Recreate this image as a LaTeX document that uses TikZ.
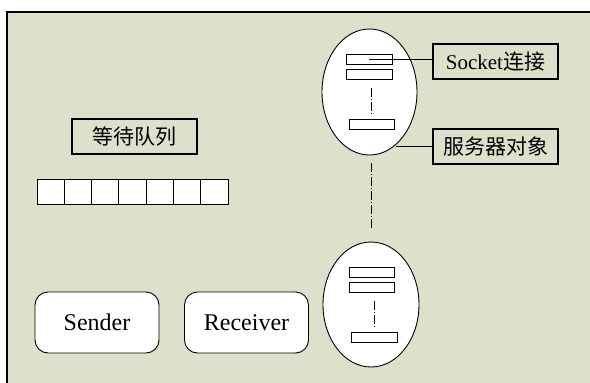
\documentclass[tikz,border=0pt]{standalone}
\usepackage{fontspec}
\setmainfont{Liberation Serif}
\newfontfamily\cjk{Noto Sans CJK SC}
\usetikzlibrary{shapes.geometric}
\definecolor{bg}{RGB}{221,224,203}
\begin{document}
\begin{tikzpicture}[x=1pt,y=-1pt,
  lbl/.style={draw, line width=1.1pt, fill=bg, inner sep=0pt, minimum width=125pt, minimum height=35pt, font=\fontsize{21}{25}\selectfont},
  cell/.style={draw, line width=0.9pt, fill=white, inner sep=0pt, minimum width=27.3pt, minimum height=25pt},
  role/.style={draw, line width=0.9pt, fill=white, rounded corners=13pt, inner sep=0pt, minimum width=124pt, minimum height=61pt, font=\fontsize{24}{28}\selectfont},
  srv/.style={draw, ellipse, line width=0.9pt, fill=white, inner sep=0pt},
  sock/.style={draw, line width=0.9pt, fill=white, inner sep=0pt, minimum width=46pt, minimum height=10pt},
  dd/.style={line width=0.9pt, dash pattern=on 9pt off 2pt on 1pt off 2pt},
  conn/.style={line width=0.9pt}]
\useasboundingbox (0,0) rectangle (590,383);
\fill[bg] (7,12) rectangle (590,383);
\draw[line width=1.3pt] (7,383) -- (7,12) -- (590,12);

% queue
\node[lbl] (qlabel) at (134.5,136.5) {\cjk 等待队列};
\foreach \i in {1,...,7} {
  \node[cell] (q\i) at ({37+27.3*(\i-0.5)},191.5) {};
}

% roles
\node[role] (sender) at (97,322.5) {Sender};
\node[role] (receiver) at (246.5,322.5) {Receiver};

% server 1
\node[srv, minimum width=95pt, minimum height=126pt] (e1) at (369.5,92) {};
\node[sock] (r11) at (369,59) {};
\node[sock] (r12) at (369,74) {};
\node[sock, minimum width=45pt] (r13) at (371.5,124) {};
\coordinate (d1a) at (371,88);
\coordinate (d1b) at (371,115);
\draw[dd] (d1a) -- (d1b);

% server 2
\node[srv, minimum width=96pt, minimum height=125pt] (e2) at (371,304.5) {};
\node[sock, minimum width=45pt] (r21) at (371.5,272) {};
\node[sock, minimum width=45pt] (r22) at (371.5,287) {};
\node[sock] (r23) at (374,337) {};
\coordinate (d2a) at (374,301);
\coordinate (d2b) at (374,327);
\draw[dd] (d2a) -- (d2b);

% link between servers
\coordinate (m1) at (371,163);
\coordinate (m2) at (371,229);
\draw[dd] (m1) -- (m2);

% labels
\node[lbl] (socklabel) at (495.5,61.5) {Socket{\cjk 连接}};
\node[lbl] (srvlabel) at (495.5,146.5) {\cjk 服务器对象};
\draw[conn] (r11.center) -- (r11.center -| socklabel.west);
\draw[conn] (srvlabel.west) -- (srvlabel.west -| e1.-64);
\end{tikzpicture}
\end{document}
